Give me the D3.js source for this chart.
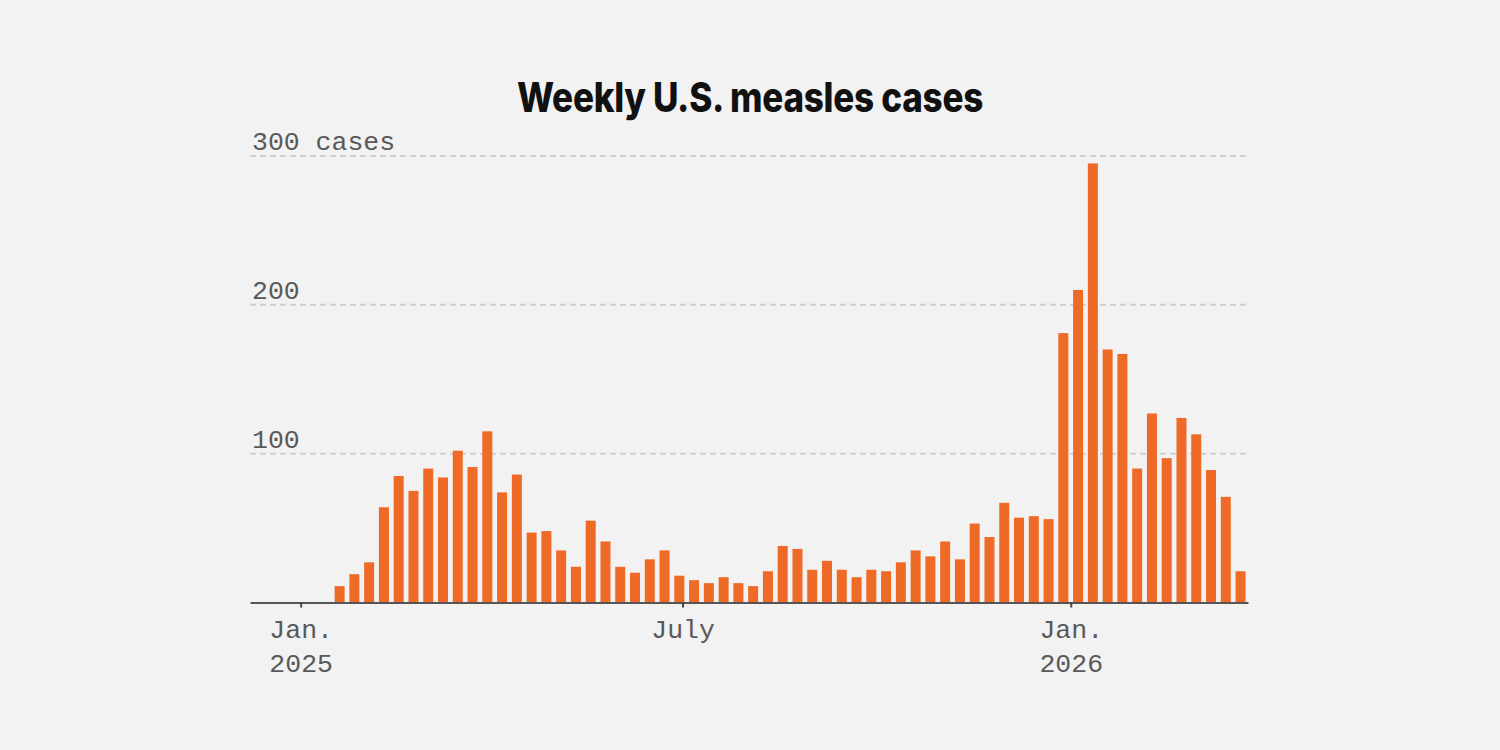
<!DOCTYPE html>
<html>
<head>
<meta charset="utf-8">
<script src="https://cdn.jsdelivr.net/npm/d3@7"></script>
<style>
  html, body { margin: 0; padding: 0; background: #f2f2f2; }
  svg { display: block; }
  .tick-label { font-family: "Liberation Mono", "DejaVu Sans Mono", monospace; fill: #595959; }
</style>
</head>
<body>
<div id="chart"></div>
<script>
// Weekly U.S. measles cases, weeks starting Sunday
const weekStart = new Date(2025, 0, 5);
const weekEnd = new Date(2026, 2, 23);
const weeklyCases = [
  0, 0, 11, 19, 27, 64, 85, 75, 90, 84, 102, 91, 115, 74, 86, 47, 48, 35, 24, 55, 41, 24, 20,
  29, 35, 18, 15, 13, 17, 13, 11, 21, 38, 36, 22, 28, 22, 17, 22, 21, 27, 35, 31, 41, 29, 53, 44, 67, 57, 58, 56,
  181, 210, 295, 170, 167, 90, 127, 97, 124, 113, 89, 71, 21
];
const yTicks = [100, 200, 300];
const xTicks = [new Date(2025, 0, 1), new Date(2025, 6, 1), new Date(2026, 0, 1)];
const xTickLabels = [['Jan.', '2025'], ['July'], ['Jan.', '2026']];

const width = 1500, height = 750;
const plot = { left: 250, right: 1248, top: 156, bottom: 602.5 };

const weeks = d3.timeSunday.range(weekStart, weekEnd);
const data = weeks.map((d, i) => ({ date: d, value: weeklyCases[i] }));

const svg = d3.select('#chart').append('svg')
  .attr('width', width)
  .attr('height', height);

svg.append('rect').attr('width', width).attr('height', height).attr('fill', '#f2f2f2');

const x = d3.scaleTime()
  .domain([new Date(2024, 11, 8), new Date(2026, 2, 26)])
  .range([plot.left, plot.right]);

const y = d3.scaleLinear()
  .domain([0, 300])
  .range([plot.bottom, plot.top]);

// title
svg.append('text')
  .attr('x', 750)
  .attr('y', 112)
  .attr('text-anchor', 'middle')
  .attr('font-family', 'Inter, Roboto, "Liberation Sans", sans-serif')
  .attr('font-weight', 800)
  .attr('font-size', 41)
  .attr('letter-spacing', -0.3)
  .attr('fill', '#111')
  .attr('textLength', 466)
  .attr('lengthAdjust', 'spacingAndGlyphs')
  .text('Weekly U.S. measles cases');

// gridlines
svg.append('g')
  .selectAll('line')
  .data(yTicks)
  .join('line')
  .attr('x1', plot.left)
  .attr('x2', plot.right)
  .attr('y1', d => y(d))
  .attr('y2', d => y(d))
  .attr('stroke', '#d0d0d0')
  .attr('stroke-width', 2)
  .attr('stroke-dasharray', '6,4');

svg.append('g')
  .selectAll('text')
  .data(yTicks)
  .join('text')
  .attr('class', 'tick-label')
  .attr('x', 252)
  .attr('y', d => y(d) - 6)
  .attr('font-size', 26.5)
  .text(d => d === 300 ? '300 cases' : d);

// bars
const barWidth = 10;
svg.append('g')
  .selectAll('rect')
  .data(data)
  .join('rect')
  .attr('x', d => x(d.date) - barWidth / 2 + 1)
  .attr('width', barWidth)
  .attr('y', d => y(d.value))
  .attr('height', d => y(0) - y(d.value))
  .attr('fill', '#ef6a27');

// x axis
const xAxis = svg.append('g')
  .attr('transform', `translate(0,${plot.bottom})`)
  .call(d3.axisBottom(x).tickValues(xTicks).tickSize(5).tickSizeOuter(0).tickFormat(''));

xAxis.select('.domain').attr('stroke', '#555').attr('stroke-width', 2);
xAxis.selectAll('.tick line').attr('stroke', '#444').attr('stroke-width', 2);

xAxis.selectAll('.tick').each(function(d, i) {
  const t = d3.select(this).append('text')
    .attr('class', 'tick-label')
    .attr('text-anchor', 'middle')
    .attr('font-size', 26.5)
    .attr('fill', '#595959');
  xTickLabels[i].forEach((line, j) => {
    t.append('tspan').attr('x', 0).attr('y', 35.5 + j * 34).text(line);
  });
});
</script>
</body>
</html>
